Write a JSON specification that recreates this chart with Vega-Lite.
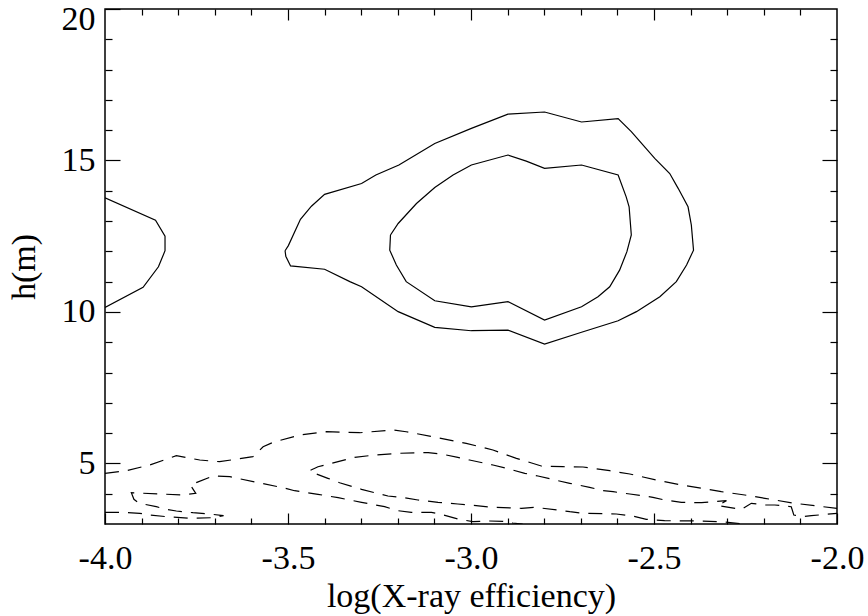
{
"$schema": "https://vega.github.io/schema/vega-lite/v6.json",
"width": 732, "height": 515,
"autosize": "none",
"padding": {"left": 105, "top": 9, "right": 31, "bottom": 92},
"background": "white",
"config": {
 "view": {"stroke": "black", "strokeWidth": 1.5},
 "font": "Liberation Serif",
 "axis": {"labelFont": "Liberation Serif", "titleFont": "Liberation Serif", "labelColor": "black", "titleColor": "black", "tickColor": "black", "titleFontWeight": "normal", "labelFontSize": 34, "titleFontSize": 34, "grid": false, "domain": false, "tickWidth": 1.2, "labelOverlap": false, "labelBound": false}
},
"datasets": {
 "solid": [
  {"g":"L","i":0,"x":-4.0,"y":13.77},{"g":"L","i":1,"x":-3.862,"y":13.03},{"g":"L","i":2,"x":-3.836,"y":12.5},{"g":"L","i":3,"x":-3.836,"y":12.02},{"g":"L","i":4,"x":-3.854,"y":11.49},{"g":"L","i":5,"x":-3.896,"y":10.81},{"g":"L","i":6,"x":-4.0,"y":10.15},
  {"g":"O","i":0,"x":-3.508,"y":12.02},{"g":"O","i":1,"x":-3.499,"y":12.19},{"g":"O","i":2,"x":-3.466,"y":13.06},{"g":"O","i":3,"x":-3.436,"y":13.49},{"g":"O","i":4,"x":-3.4,"y":13.88},{"g":"O","i":5,"x":-3.299,"y":14.24},{"g":"O","i":6,"x":-3.26,"y":14.52},{"g":"O","i":7,"x":-3.197,"y":14.85},{"g":"O","i":8,"x":-3.099,"y":15.56},{"g":"O","i":9,"x":-2.999,"y":16.06},{"g":"O","i":10,"x":-2.899,"y":16.53},{"g":"O","i":11,"x":-2.799,"y":16.6},{"g":"O","i":12,"x":-2.698,"y":16.27},{"g":"O","i":13,"x":-2.598,"y":16.38},{"g":"O","i":14,"x":-2.562,"y":15.95},{"g":"O","i":15,"x":-2.498,"y":15.07},{"g":"O","i":16,"x":-2.457,"y":14.57},{"g":"O","i":17,"x":-2.434,"y":14.08},{"g":"O","i":18,"x":-2.407,"y":13.47},{"g":"O","i":19,"x":-2.398,"y":12.87},{"g":"O","i":20,"x":-2.392,"y":12.04},{"g":"O","i":21,"x":-2.411,"y":11.55},{"g":"O","i":22,"x":-2.439,"y":11.0},{"g":"O","i":23,"x":-2.484,"y":10.5},{"g":"O","i":24,"x":-2.548,"y":10.01},{"g":"O","i":25,"x":-2.598,"y":9.71},{"g":"O","i":26,"x":-2.698,"y":9.33},{"g":"O","i":27,"x":-2.799,"y":8.94},{"g":"O","i":28,"x":-2.899,"y":9.4},{"g":"O","i":29,"x":-2.999,"y":9.38},{"g":"O","i":30,"x":-3.099,"y":9.49},{"g":"O","i":31,"x":-3.199,"y":10.01},{"g":"O","i":32,"x":-3.299,"y":10.83},{"g":"O","i":33,"x":-3.331,"y":11.0},{"g":"O","i":34,"x":-3.4,"y":11.41},{"g":"O","i":35,"x":-3.493,"y":11.52},{"g":"O","i":36,"x":-3.506,"y":11.84},{"g":"O","i":37,"x":-3.508,"y":12.02},
  {"g":"I","i":0,"x":-3.22,"y":12.54},{"g":"I","i":1,"x":-3.199,"y":12.92},{"g":"I","i":2,"x":-3.149,"y":13.58},{"g":"I","i":3,"x":-3.099,"y":14.11},{"g":"I","i":4,"x":-3.049,"y":14.52},{"g":"I","i":5,"x":-2.999,"y":14.85},{"g":"I","i":6,"x":-2.899,"y":15.18},{"g":"I","i":7,"x":-2.849,"y":14.98},{"g":"I","i":8,"x":-2.799,"y":14.74},{"g":"I","i":9,"x":-2.698,"y":14.85},{"g":"I","i":10,"x":-2.598,"y":14.52},{"g":"I","i":11,"x":-2.576,"y":13.8},{"g":"I","i":12,"x":-2.568,"y":13.47},{"g":"I","i":13,"x":-2.562,"y":12.54},{"g":"I","i":14,"x":-2.574,"y":11.99},{"g":"I","i":15,"x":-2.594,"y":11.38},{"g":"I","i":16,"x":-2.621,"y":10.83},{"g":"I","i":17,"x":-2.653,"y":10.5},{"g":"I","i":18,"x":-2.698,"y":10.17},{"g":"I","i":19,"x":-2.799,"y":9.73},{"g":"I","i":20,"x":-2.899,"y":10.34},{"g":"I","i":21,"x":-2.999,"y":10.17},{"g":"I","i":22,"x":-3.099,"y":10.37},{"g":"I","i":23,"x":-3.177,"y":11.0},{"g":"I","i":24,"x":-3.204,"y":11.55},{"g":"I","i":25,"x":-3.222,"y":12.04},{"g":"I","i":26,"x":-3.22,"y":12.54}
 ],
 "dashed": [
  {"g":"A","i":0,"x":-4.0,"y":4.673},{"g":"A","i":1,"x":-3.942,"y":4.759},{"g":"A","i":2,"x":-3.878,"y":4.947},{"g":"A","i":3,"x":-3.805,"y":5.254},{"g":"A","i":4,"x":-3.741,"y":5.112},{"g":"A","i":5,"x":-3.687,"y":5.056},{"g":"A","i":6,"x":-3.596,"y":5.221},{"g":"A","i":7,"x":-3.577,"y":5.442},{"g":"A","i":8,"x":-3.568,"y":5.551},{"g":"A","i":9,"x":-3.541,"y":5.696},{"g":"A","i":10,"x":-3.468,"y":5.937},{"g":"A","i":11,"x":-3.395,"y":6.046},{"g":"A","i":12,"x":-3.304,"y":6.013},{"g":"A","i":13,"x":-3.213,"y":6.102},{"g":"A","i":14,"x":-3.177,"y":6.046},{"g":"A","i":15,"x":-3.104,"y":5.881},{"g":"A","i":16,"x":-3.013,"y":5.663},{"g":"A","i":17,"x":-2.94,"y":5.442},{"g":"A","i":18,"x":-2.876,"y":5.168},{"g":"A","i":19,"x":-2.808,"y":4.914},{"g":"A","i":20,"x":-2.749,"y":4.891},{"g":"A","i":21,"x":-2.694,"y":4.881},{"g":"A","i":22,"x":-2.621,"y":4.759},{"g":"A","i":23,"x":-2.566,"y":4.65},{"g":"A","i":24,"x":-2.493,"y":4.452},{"g":"A","i":25,"x":-2.425,"y":4.287},{"g":"A","i":26,"x":-2.37,"y":4.178},{"g":"A","i":27,"x":-2.316,"y":4.066},{"g":"A","i":28,"x":-2.252,"y":3.957},{"g":"A","i":29,"x":-2.197,"y":3.848},{"g":"A","i":30,"x":-2.116,"y":3.683},{"g":"A","i":31,"x":-2.061,"y":3.604},{"g":"A","i":32,"x":-2.0,"y":3.518},
  {"g":"B","i":0,"x":-2.266,"y":3.017},{"g":"B","i":1,"x":-2.316,"y":3.076},{"g":"B","i":2,"x":-2.37,"y":3.099},{"g":"B","i":3,"x":-2.471,"y":3.109},{"g":"B","i":4,"x":-2.521,"y":3.155},{"g":"B","i":5,"x":-2.558,"y":3.264},{"g":"B","i":6,"x":-2.603,"y":3.33},{"g":"B","i":7,"x":-2.694,"y":3.353},{"g":"B","i":8,"x":-2.73,"y":3.406},{"g":"B","i":9,"x":-2.762,"y":3.462},{"g":"B","i":10,"x":-2.826,"y":3.551},{"g":"B","i":11,"x":-2.862,"y":3.518},{"g":"B","i":12,"x":-2.941,"y":3.551},{"g":"B","i":13,"x":-3.004,"y":3.627},{"g":"B","i":14,"x":-3.036,"y":3.66},{"g":"B","i":15,"x":-3.09,"y":3.716},{"g":"B","i":16,"x":-3.145,"y":3.792},{"g":"B","i":17,"x":-3.181,"y":3.868},{"g":"B","i":18,"x":-3.227,"y":3.924},{"g":"B","i":19,"x":-3.263,"y":4.033},{"g":"B","i":20,"x":-3.299,"y":4.145},{"g":"B","i":21,"x":-3.359,"y":4.363},{"g":"B","i":22,"x":-3.391,"y":4.508},{"g":"B","i":23,"x":-3.427,"y":4.673},{"g":"B","i":24,"x":-3.441,"y":4.759},
  {"g":"B","i":25,"x":-3.418,"y":4.891},{"g":"B","i":26,"x":-3.381,"y":5.003},{"g":"B","i":27,"x":-3.318,"y":5.201},{"g":"B","i":28,"x":-3.263,"y":5.277},{"g":"B","i":29,"x":-3.199,"y":5.333},{"g":"B","i":30,"x":-3.145,"y":5.353},{"g":"B","i":31,"x":-3.117,"y":5.353},{"g":"B","i":32,"x":-3.081,"y":5.31},{"g":"B","i":33,"x":-3.036,"y":5.201},{"g":"B","i":34,"x":-3.004,"y":5.112},{"g":"B","i":35,"x":-2.94,"y":4.947},{"g":"B","i":36,"x":-2.903,"y":4.838},{"g":"B","i":37,"x":-2.853,"y":4.673},{"g":"B","i":38,"x":-2.817,"y":4.584},{"g":"B","i":39,"x":-2.762,"y":4.429},{"g":"B","i":40,"x":-2.73,"y":4.343},{"g":"B","i":41,"x":-2.676,"y":4.211},{"g":"B","i":42,"x":-2.639,"y":4.099},{"g":"B","i":43,"x":-2.612,"y":4.066},{"g":"B","i":44,"x":-2.566,"y":3.99},{"g":"B","i":45,"x":-2.503,"y":3.881},{"g":"B","i":46,"x":-2.471,"y":3.792},{"g":"B","i":47,"x":-2.425,"y":3.716},{"g":"B","i":48,"x":-2.37,"y":3.703},{"g":"B","i":49,"x":-2.339,"y":3.736},{"g":"B","i":50,"x":-2.302,"y":3.769},{"g":"B","i":51,"x":-2.326,"y":3.611},{"g":"B","i":52,"x":-2.261,"y":3.485},{"g":"B","i":53,"x":-2.234,"y":3.683},{"g":"B","i":54,"x":-2.198,"y":3.627},{"g":"B","i":55,"x":-2.17,"y":3.627},{"g":"B","i":56,"x":-2.125,"y":3.571},{"g":"B","i":57,"x":-2.118,"y":3.297},{"g":"B","i":58,"x":-2.093,"y":3.241},{"g":"B","i":59,"x":-2.07,"y":3.274},{"g":"B","i":60,"x":-2.0,"y":3.353},
  {"g":"C","i":0,"x":-4.0,"y":3.386},{"g":"C","i":1,"x":-3.96,"y":3.386},{"g":"C","i":2,"x":-3.905,"y":3.353},{"g":"C","i":3,"x":-3.878,"y":3.297},{"g":"C","i":4,"x":-3.832,"y":3.241},{"g":"C","i":5,"x":-3.769,"y":3.188},{"g":"C","i":6,"x":-3.705,"y":3.208},{"g":"C","i":7,"x":-3.676,"y":3.274},{"g":"C","i":8,"x":-3.714,"y":3.33},{"g":"C","i":9,"x":-3.76,"y":3.373},{"g":"C","i":10,"x":-3.805,"y":3.429},{"g":"C","i":11,"x":-3.832,"y":3.485},{"g":"C","i":12,"x":-3.86,"y":3.571},{"g":"C","i":13,"x":-3.892,"y":3.65},{"g":"C","i":14,"x":-3.91,"y":3.716},{"g":"C","i":15,"x":-3.921,"y":3.815},{"g":"C","i":16,"x":-3.928,"y":4.033},{"g":"C","i":17,"x":-3.787,"y":3.957},{"g":"C","i":18,"x":-3.752,"y":4.013},{"g":"C","i":19,"x":-3.767,"y":4.287},{"g":"C","i":20,"x":-3.705,"y":4.584},{"g":"C","i":21,"x":-3.659,"y":4.561},{"g":"C","i":22,"x":-3.586,"y":4.376},{"g":"C","i":23,"x":-3.514,"y":4.198},{"g":"C","i":24,"x":-3.482,"y":4.099},{"g":"C","i":25,"x":-3.418,"y":3.98},{"g":"C","i":26,"x":-3.363,"y":3.868},{"g":"C","i":27,"x":-3.299,"y":3.716},{"g":"C","i":28,"x":-3.236,"y":3.571},{"g":"C","i":29,"x":-3.199,"y":3.439},{"g":"C","i":30,"x":-3.163,"y":3.386},{"g":"C","i":31,"x":-3.108,"y":3.386},{"g":"C","i":32,"x":-3.081,"y":3.32},{"g":"C","i":33,"x":-3.036,"y":3.165},{"g":"C","i":34,"x":-2.995,"y":3.076},{"g":"C","i":35,"x":-2.949,"y":3.099},{"g":"C","i":36,"x":-2.913,"y":3.089},{"g":"C","i":37,"x":-2.886,"y":3.033},{"g":"C","i":38,"x":-2.859,"y":3.0}
 ]
},
"layer": [
 {
  "data": {"name": "solid"},
  "mark": {"type": "line", "color": "black", "strokeWidth": 1.2, "clip": true},
  "encoding": {
   "x": {"field": "x", "type": "quantitative", "scale": {"domain": [-4, -2], "nice": false, "zero": false},
     "axis": {"orient": "bottom", "values": [-4, -3.5, -3, -2.5, -2], "tickSize": -11, "labelPadding": 28, "labelFlush": false,
       "labelExpr": "(datum.value < 0 ? '-' : '') + format(abs(datum.value), '.1f')", "title": "log(X-ray efficiency)", "titlePadding": 4}},
   "y": {"field": "y", "type": "quantitative", "scale": {"domain": [3, 20], "nice": false, "zero": false},
     "axis": {"orient": "left", "values": [5, 10, 15, 20], "tickSize": -15, "labelPadding": 25,
       "labelBaseline": {"condition": {"test": "datum.value == 20", "value": "top"}, "value": "middle"},
       "labelOffset": {"condition": {"test": "datum.value == 20", "value": -7}, "value": 0},
       "title": "h(m)", "titlePadding": 20}},
   "detail": {"field": "g"},
   "order": {"field": "i"}
  }
 },
 {
  "data": {"name": "dashed"},
  "mark": {"type": "line", "color": "black", "strokeWidth": 1.2, "strokeDash": [14, 9], "clip": true},
  "encoding": {
   "x": {"field": "x", "type": "quantitative", "scale": {"domain": [-4, -2], "nice": false, "zero": false},
     "axis": {"orient": "bottom", "values": [-3.9,-3.8,-3.7,-3.6,-3.4,-3.3,-3.2,-3.1,-2.9,-2.8,-2.7,-2.6,-2.4,-2.3,-2.2,-2.1], "tickSize": -6, "labels": false, "title": null}},
   "y": {"field": "y", "type": "quantitative", "scale": {"domain": [3, 20], "nice": false, "zero": false},
     "axis": {"orient": "left", "values": [4,6,7,8,9,11,12,13,14,16,17,18,19], "tickSize": -7, "labels": false, "title": null}},
   "detail": {"field": "g"},
   "order": {"field": "i"}
  }
 },
 {
  "data": {"name": "solid"},
  "mark": {"type": "line", "opacity": 0},
  "encoding": {
   "x": {"field": "x", "type": "quantitative", "scale": {"domain": [-4, -2], "nice": false, "zero": false},
     "axis": {"orient": "top", "values": [-3.5, -3, -2.5], "tickSize": -11, "labels": false, "title": null}},
   "y": {"field": "y", "type": "quantitative", "scale": {"domain": [3, 20], "nice": false, "zero": false},
     "axis": {"orient": "right", "values": [5, 10, 15], "tickSize": -15, "labels": false, "title": null}},
   "detail": {"field": "g"},
   "order": {"field": "i"}
  }
 },
 {
  "data": {"name": "solid"},
  "mark": {"type": "line", "opacity": 0},
  "encoding": {
   "x": {"field": "x", "type": "quantitative", "scale": {"domain": [-4, -2], "nice": false, "zero": false},
     "axis": {"orient": "top", "values": [-3.9,-3.8,-3.7,-3.6,-3.4,-3.3,-3.2,-3.1,-2.9,-2.8,-2.7,-2.6,-2.4,-2.3,-2.2,-2.1], "tickSize": -6, "labels": false, "title": null}},
   "y": {"field": "y", "type": "quantitative", "scale": {"domain": [3, 20], "nice": false, "zero": false},
     "axis": {"orient": "right", "values": [4,6,7,8,9,11,12,13,14,16,17,18,19], "tickSize": -7, "labels": false, "title": null}},
   "detail": {"field": "g"},
   "order": {"field": "i"}
  }
 }
],
"resolve": {"axis": {"x": "independent", "y": "independent"}}
}
